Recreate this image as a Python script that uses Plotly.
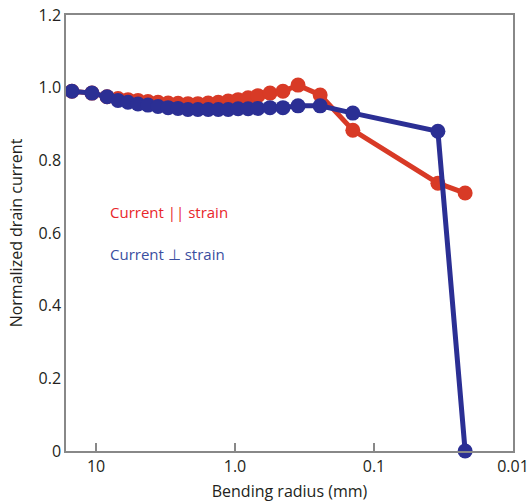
import plotly.graph_objects as go

# Bending radius (mm)
radius = [14.9, 10.7, 8.33, 6.95, 5.89, 4.99, 4.23, 3.58, 3.03, 2.57, 2.18, 1.85,
          1.56, 1.32, 1.12, 0.95, 0.805, 0.684, 0.56, 0.452, 0.352, 0.244, 0.142,
          0.0347, 0.0221]
# Normalized drain current, current parallel to strain
current_parallel = [0.99, 0.985, 0.975, 0.97, 0.967, 0.965, 0.962, 0.96, 0.958, 0.957,
                    0.956, 0.956, 0.958, 0.96, 0.963, 0.967, 0.972, 0.978, 0.985, 0.99,
                    1.007, 0.98, 0.883, 0.737, 0.71]
# Normalized drain current, current perpendicular to strain
current_perp = [0.99, 0.985, 0.975, 0.965, 0.96, 0.955, 0.952, 0.948, 0.945, 0.943,
                0.94, 0.94, 0.94, 0.94, 0.94, 0.942, 0.942, 0.943, 0.945, 0.945,
                0.95, 0.95, 0.93, 0.88, 0.0]

x_tickvals = [10, 1, 0.1, 0.01]
x_ticktext = ["10", "1.0", "0.1", "0.01"]
y_tickvals = [0, 0.2, 0.4, 0.6, 0.8, 1.0, 1.2]
y_ticktext = ["0", "0.2", "0.4", "0.6", "0.8", "1.0", "1.2"]

RED = "#d83a26"
BLUE = "#2b2f94"
FONT = "Open Sans"
TXT = "#231f20"

fig = go.Figure()
fig.add_trace(go.Scatter(x=radius, y=current_parallel, mode="lines+markers",
                         line=dict(color=RED, width=5),
                         marker=dict(color=RED, size=15),
                         showlegend=False, cliponaxis=False))
fig.add_trace(go.Scatter(x=radius, y=current_perp, mode="lines+markers",
                         line=dict(color=BLUE, width=5),
                         marker=dict(color=BLUE, size=15),
                         showlegend=False, cliponaxis=False))

fig.add_annotation(x=0.093, y=0.548, xref="paper", yref="paper", xanchor="left",
                   yanchor="middle", showarrow=False,
                   text="Current || strain", font=dict(family=FONT, size=15, color="#e8262a"))
fig.add_annotation(x=0.093, y=0.452, xref="paper", yref="paper", xanchor="left",
                   yanchor="middle", showarrow=False,
                   text="Current ⊥ strain", font=dict(family=FONT, size=15, color="#3a4ea0"))

fig.update_xaxes(type="log", range=[1.216, -2.0], automargin=False,
                 tickvals=x_tickvals, ticktext=x_ticktext,
                 ticks="inside", ticklen=8, tickwidth=1.5, tickcolor="#888888",
                 showline=True, linecolor="#888888", linewidth=1.5, mirror=True,
                 showgrid=False, zeroline=False,
                 tickfont=dict(family=FONT, size=16, color=TXT),
                 title=dict(text="Bending radius (mm)", standoff=10,
                            font=dict(family=FONT, size=16, color=TXT)))
fig.update_yaxes(range=[0, 1.2], tickvals=y_tickvals, ticktext=y_ticktext, automargin=False,
                 ticks="", showline=True, linecolor="#888888", linewidth=1.5, mirror=True,
                 showgrid=False, zeroline=False,
                 tickfont=dict(family=FONT, size=16, color=TXT),
                 title=dict(text="Normalized drain current", standoff=12,
                            font=dict(family=FONT, size=16, color=TXT)))

fig.update_layout(width=531, height=502, margin=dict(l=66, r=18, t=15, b=51),
                  plot_bgcolor="white", paper_bgcolor="white")

fig.write_html("out.html")
